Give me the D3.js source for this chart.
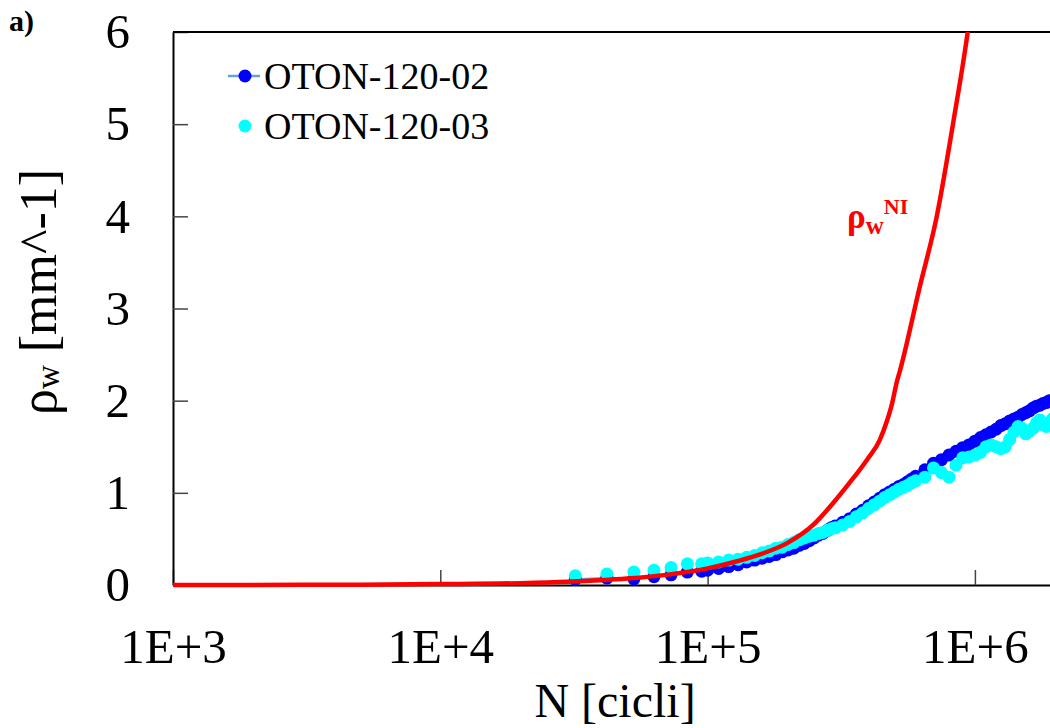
<!DOCTYPE html>
<html>
<head>
<meta charset="utf-8">
<script src="https://cdn.jsdelivr.net/npm/d3@7"></script>
<style>
  html, body { margin: 0; padding: 0; background: #fff; }
  svg { display: block; font-family: "Liberation Serif", "Times New Roman", serif; }
</style>
</head>
<body>
<svg id="chart" width="1050" height="728"></svg>
<script>
// Number of cycles N for specimen OTON-120-02 and measured rho_w [mm^-1]
const cycles02 = [32000, 42000, 53000, 63000, 73000, 84000, 95000,
  100000, 110000, 120000, 130000, 140000, 150000, 160000, 170000, 180000, 190000,
  200000, 210000, 220000, 230000, 240000, 250000, 260000, 270000, 280000, 290000, 300000,
  320000, 340000, 360000, 380000, 400000, 420000, 440000, 460000, 480000, 500000,
  520000, 540000, 560000, 580000, 600000,
  650000, 700000, 750000, 800000, 850000, 900000, 950000, 1000000, 1050000, 1100000,
  1150000, 1200000, 1250000, 1300000, 1350000, 1400000, 1450000, 1500000, 1550000,
  1600000, 1650000, 1700000, 1750000, 1800000, 1850000, 1900000, 1950000];
const rho02 = [0.06, 0.075, 0.065, 0.09, 0.11, 0.14, 0.15,
  0.16, 0.18, 0.20, 0.22, 0.25, 0.27, 0.29, 0.31, 0.33, 0.36,
  0.38, 0.40, 0.43, 0.45, 0.48, 0.51, 0.54, 0.56, 0.59, 0.62, 0.64,
  0.68, 0.72, 0.77, 0.81, 0.86, 0.90, 0.94, 0.98, 1.01, 1.04,
  1.07, 1.09, 1.12, 1.15, 1.18,
  1.25, 1.32, 1.36, 1.41, 1.45, 1.49, 1.52, 1.56, 1.60, 1.63,
  1.66, 1.69, 1.73, 1.75, 1.78, 1.80, 1.82, 1.85, 1.87,
  1.89, 1.92, 1.94, 1.95, 1.97, 1.98, 2.00, 2.00];

// Specimen OTON-120-03
const cycles03 = [32000, 42000, 53000, 63000, 73000, 84000, 95000,
  100000, 110000, 120000, 130000, 140000, 150000, 160000, 170000, 180000, 190000,
  200000, 210000, 220000, 230000, 240000, 250000, 260000, 270000, 280000, 290000, 300000,
  320000, 340000, 360000, 380000, 400000, 420000, 440000, 460000, 480000, 500000,
  520000, 540000, 560000, 580000, 600000,
  650000, 700000, 750000, 800000, 850000, 900000, 950000, 1000000, 1050000, 1100000,
  1150000, 1200000, 1250000, 1300000, 1350000, 1400000, 1450000, 1500000, 1550000,
  1600000, 1650000, 1700000, 1750000, 1800000, 1850000, 1900000, 1950000];
const rho03 = [0.10, 0.12, 0.14, 0.16, 0.19, 0.23, 0.23,
  0.24, 0.25, 0.27, 0.28, 0.30, 0.32, 0.35, 0.37, 0.40, 0.41,
  0.44, 0.46, 0.49, 0.51, 0.53, 0.54, 0.56, 0.57, 0.59, 0.61, 0.62,
  0.65, 0.69, 0.74, 0.78, 0.83, 0.87, 0.91, 0.95, 0.98, 1.01,
  1.04, 1.06, 1.08, 1.11, 1.13,
  1.17, 1.27, 1.22, 1.17, 1.30, 1.38, 1.39, 1.41, 1.44, 1.50,
  1.52, 1.50, 1.48, 1.50, 1.58, 1.66, 1.72, 1.70, 1.64,
  1.67, 1.70, 1.76, 1.79, 1.74, 1.72, 1.76, 1.80];

// Prediction curve rho_w^NI
const cyclesNI = [1000, 2000, 5000, 10000, 20000, 30000, 50000, 70000, 100000,
  130000, 160000, 200000, 250000, 295000, 340000, 395000, 440000, 470000, 490000,
  510000, 525000, 620000, 720000, 830000, 940000, 1000000];
const rhoNI = [0, 0.001, 0.004, 0.01, 0.02, 0.035, 0.07, 0.11, 0.18,
  0.26, 0.34, 0.46, 0.66, 0.89, 1.11, 1.36, 1.57, 1.79, 1.97,
  2.20, 2.33, 3.22, 4.00, 5.02, 6.00, 6.60];

const xTicks = [1e3, 1e4, 1e5, 1e6];
const xTickLabels = ["1E+3", "1E+4", "1E+5", "1E+6"];
const yTicks = [0, 1, 2, 3, 4, 5, 6];
const seriesNames = ["OTON-120-02", "OTON-120-03"];

const svg = d3.select("#chart");
const plotLeft = 173, plotTop = 32, plotBottom = 585;
const decade = 267.3;

const x = d3.scaleLog().domain([1e3, 2e6]).range([plotLeft, plotLeft + decade * Math.log10(2000)]);
const y = d3.scaleLinear().domain([0, 6]).range([plotBottom, plotTop]);

const serif = '"Liberation Serif", "Times New Roman", serif';
const blue = "#0000ff", cyan = "#00ffff", linkBlue = "#6a9fdc";

// Clip region for the plotting area
svg.append("defs").append("clipPath").attr("id", "plotClip")
  .append("rect").attr("x", plotLeft).attr("y", plotTop)
  .attr("width", 1050 - plotLeft).attr("height", plotBottom - plotTop + 8);

// Axes
const xAxis = d3.axisBottom(x).tickValues(xTicks)
  .tickFormat((d, i) => xTickLabels[i])
  .tickSizeInner(-15).tickSizeOuter(0).tickPadding(43);
const gx = svg.append("g").attr("transform", `translate(0,${plotBottom})`).call(xAxis);
gx.select(".domain").attr("stroke", "#000").attr("stroke-width", 2);
gx.selectAll(".tick line").attr("stroke", "#444").attr("stroke-width", 1.5);
gx.selectAll(".tick text").attr("font-family", serif).attr("font-size", 49).attr("fill", "#000");

const yAxis = d3.axisLeft(y).tickValues(yTicks).tickFormat(d3.format("d"))
  .tickSizeInner(-15).tickSizeOuter(0).tickPadding(43);
const gy = svg.append("g").attr("transform", `translate(${plotLeft},0)`).call(yAxis);
gy.select(".domain").attr("stroke", "#000").attr("stroke-width", 2);
gy.selectAll(".tick line").attr("stroke", "#444").attr("stroke-width", 1.5);
gy.selectAll(".tick text").attr("font-family", serif).attr("font-size", 49).attr("fill", "#000");

// Top frame line
svg.append("line").attr("x1", plotLeft).attr("x2", 1050).attr("y1", plotTop).attr("y2", plotTop)
  .attr("stroke", "#000").attr("stroke-width", 2);

const plot = svg.append("g").attr("clip-path", "url(#plotClip)");

const data02 = cycles02.map((n, i) => ({ n, r: rho02[i] }));
const data03 = cycles03.map((n, i) => ({ n, r: rho03[i] }));
const dataNI = cyclesNI.map((n, i) => ({ n, r: rhoNI[i] }));

const line = d3.line().x(d => x(d.n)).y(d => y(d.r));

// OTON-120-02: connecting line and markers
plot.append("path").datum(data02).attr("d", line)
  .attr("fill", "none").attr("stroke", linkBlue).attr("stroke-width", 2.5);
plot.append("g").selectAll("circle").data(data02).join("circle")
  .attr("cx", d => x(d.n)).attr("cy", d => y(d.r)).attr("r", 6.5).attr("fill", blue);

// OTON-120-03 markers
plot.append("g").selectAll("circle").data(data03).join("circle")
  .attr("cx", d => x(d.n)).attr("cy", d => y(d.r)).attr("r", 6.5).attr("fill", cyan);

// rho_w^NI curve
plot.append("path").datum(dataNI)
  .attr("d", line.curve(d3.curveMonotoneX))
  .attr("fill", "none").attr("stroke", "#ff0000").attr("stroke-width", 4.5);

// Curve label
const lbl = svg.append("text").attr("x", 847).attr("y", 228)
  .attr("font-family", serif).attr("font-weight", "bold").attr("fill", "#ff0000");
lbl.append("tspan").attr("font-size", 35).text("ρ");
lbl.append("tspan").attr("font-size", 25).attr("dy", 6).text("w");
lbl.append("tspan").attr("font-size", 22).attr("dy", -20).text("NI");

// Legend
const legend = svg.append("g").attr("font-family", serif);
legend.append("line").attr("x1", 228).attr("x2", 260).attr("y1", 76).attr("y2", 76)
  .attr("stroke", linkBlue).attr("stroke-width", 2.5);
legend.append("circle").attr("cx", 245).attr("cy", 76).attr("r", 6.5).attr("fill", blue);
legend.append("circle").attr("cx", 245).attr("cy", 126).attr("r", 6.5).attr("fill", cyan);
legend.selectAll("text").data(seriesNames).join("text")
  .attr("x", 264).attr("y", (d, i) => 89 + i * 50)
  .attr("font-size", 38).attr("fill", "#000").text(d => d);

// Axis titles
svg.append("text").attr("x", 615).attr("y", 717).attr("text-anchor", "middle")
  .attr("font-family", serif).attr("font-size", 48).attr("fill", "#000").text("N [cicli]");

const yt = svg.append("text").attr("transform", "translate(56,292) rotate(-90)")
  .attr("text-anchor", "middle").attr("font-family", serif).attr("fill", "#000");
yt.append("tspan").attr("font-size", 52).text("ρ");
yt.append("tspan").attr("font-size", 33).attr("dy", 3).text("w");
yt.append("tspan").attr("font-size", 52).attr("dy", -3).text(" [mm^-1]");

// Panel label
svg.append("text").attr("x", 9).attr("y", 31).attr("font-family", serif)
  .attr("font-weight", "bold").attr("font-size", 30).attr("fill", "#000").text("a)");
</script>
</body>
</html>
